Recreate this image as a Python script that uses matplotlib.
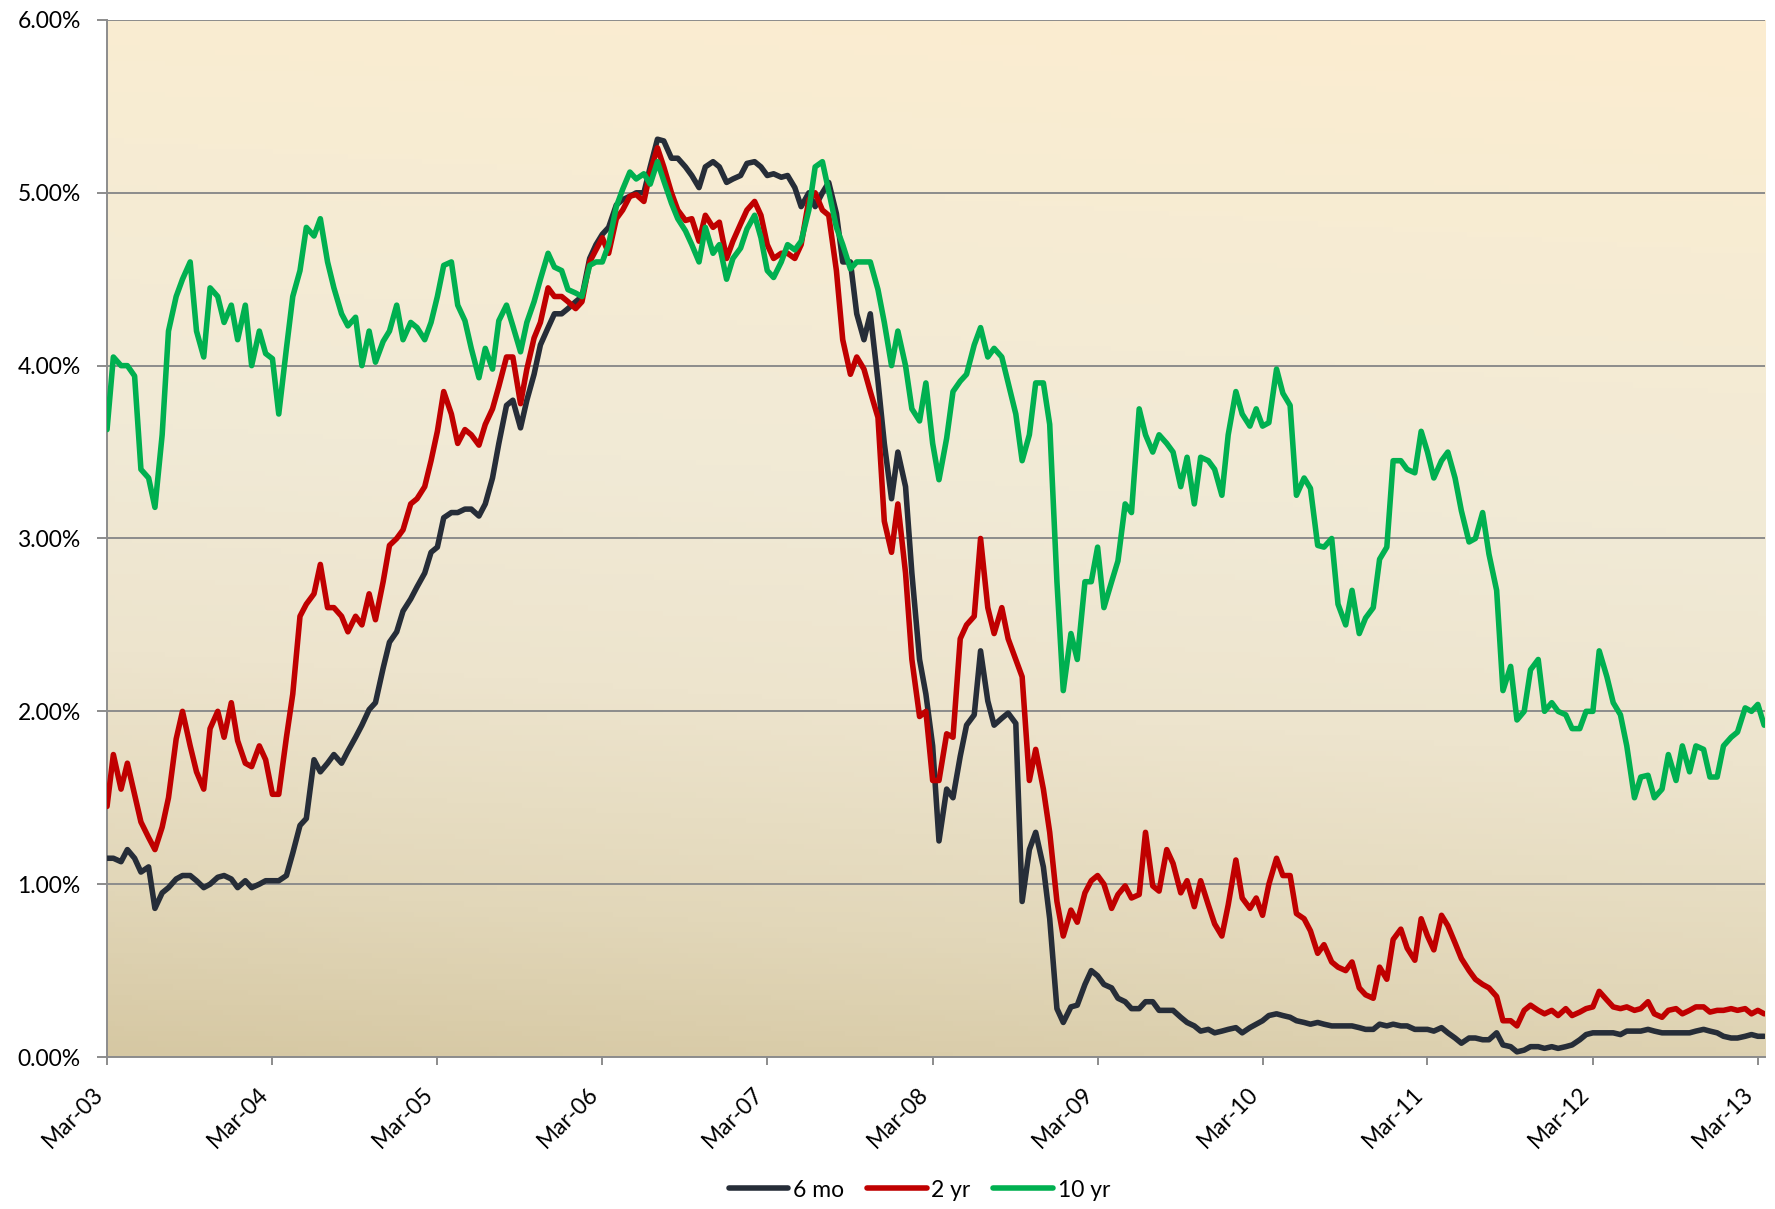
import matplotlib
matplotlib.use("Agg")
import matplotlib.pyplot as plt
import matplotlib.dates as mdates
from matplotlib.colors import LinearSegmentedColormap
from matplotlib.ticker import FuncFormatter, MultipleLocator
import numpy as np
import pandas as pd

plt.rcParams['font.family'] = ['Lato', 'DejaVu Sans']

# readings on the 1st and 15th of each month, Mar 2003 .. Mar 2013 (242 points)
dates = pd.date_range("2003-03-01", periods=242, freq="SMS")

yield_6mo = [
    1.15, 1.15, 1.13, 1.2, 1.15, 1.07, 1.1, 0.86, 0.95, 0.98, 1.03, 1.05, 1.05, 1.02, 0.98, 1.0, 1.04, 1.05, 1.03, 0.98, 1.02, 0.98, 1.0, 1.02,
    1.02, 1.02, 1.05, 1.18, 1.34, 1.38, 1.72, 1.65, 1.7, 1.75, 1.7, 1.77, 1.85, 1.92, 2.01, 2.05, 2.25, 2.4, 2.46, 2.58, 2.65, 2.72, 2.8, 2.92,
    2.95, 3.12, 3.15, 3.15, 3.17, 3.17, 3.13, 3.2, 3.35, 3.55, 3.77, 3.8, 3.64, 3.8, 3.95, 4.12, 4.22, 4.3, 4.3, 4.33, 4.37, 4.4, 4.62, 4.7,
    4.76, 4.8, 4.93, 4.96, 4.98, 5.0, 5.0, 5.15, 5.31, 5.3, 5.2, 5.2, 5.15, 5.1, 5.03, 5.15, 5.18, 5.15, 5.06, 5.08, 5.1, 5.17, 5.18, 5.15,
    5.1, 5.11, 5.09, 5.1, 5.03, 4.92, 5.0, 4.92, 5.0, 5.06, 4.88, 4.6, 4.6, 4.3, 4.15, 4.3, 3.91, 3.55, 3.23, 3.5, 3.3, 2.8, 2.3, 2.1,
    1.8, 1.25, 1.55, 1.5, 1.74, 1.92, 1.98, 2.35, 2.06, 1.92, 1.96, 1.99, 1.93, 0.9, 1.2, 1.3, 1.1, 0.8, 0.28, 0.2, 0.29, 0.3, 0.42, 0.5,
    0.47, 0.42, 0.4, 0.34, 0.32, 0.28, 0.28, 0.32, 0.32, 0.27, 0.27, 0.27, 0.23, 0.2, 0.18, 0.15, 0.16, 0.14, 0.15, 0.16, 0.17, 0.14, 0.17, 0.19,
    0.21, 0.24, 0.25, 0.24, 0.23, 0.21, 0.2, 0.19, 0.2, 0.19, 0.18, 0.18, 0.18, 0.18, 0.17, 0.16, 0.16, 0.19, 0.18, 0.19, 0.18, 0.18, 0.16, 0.16,
    0.16, 0.15, 0.17, 0.14, 0.11, 0.08, 0.11, 0.11, 0.1, 0.1, 0.14, 0.07, 0.06, 0.03, 0.04, 0.06, 0.06, 0.05, 0.06, 0.05, 0.06, 0.07, 0.1, 0.13,
    0.14, 0.14, 0.14, 0.14, 0.13, 0.15, 0.15, 0.15, 0.16, 0.15, 0.14, 0.14, 0.14, 0.14, 0.14, 0.15, 0.16, 0.15, 0.14, 0.12, 0.11, 0.11, 0.12, 0.13,
    0.12, 0.12,
]

yield_2yr = [
    1.45, 1.75, 1.55, 1.7, 1.52, 1.36, 1.27, 1.2, 1.33, 1.5, 1.84, 2.0, 1.8, 1.65, 1.55, 1.9, 2.0, 1.85, 2.05, 1.83, 1.7, 1.68, 1.8, 1.72,
    1.52, 1.52, 1.85, 2.1, 2.55, 2.62, 2.68, 2.85, 2.6, 2.6, 2.55, 2.46, 2.55, 2.5, 2.68, 2.53, 2.75, 2.96, 3.0, 3.05, 3.2, 3.23, 3.3, 3.45,
    3.62, 3.85, 3.72, 3.55, 3.63, 3.6, 3.54, 3.66, 3.75, 3.88, 4.05, 4.05, 3.78, 3.98, 4.16, 4.25, 4.45, 4.4, 4.4, 4.37, 4.33, 4.37, 4.6, 4.67,
    4.74, 4.65, 4.85, 4.9, 4.98, 4.99, 4.95, 5.12, 5.26, 5.15, 5.0, 4.9, 4.84, 4.85, 4.72, 4.87, 4.8, 4.83, 4.62, 4.72, 4.82, 4.9, 4.95, 4.87,
    4.7, 4.62, 4.65, 4.65, 4.62, 4.7, 4.96, 5.0, 4.9, 4.87, 4.55, 4.15, 3.95, 4.05, 3.98, 3.85, 3.7, 3.1, 2.92, 3.2, 2.8, 2.3, 1.97, 2.0,
    1.6, 1.6, 1.87, 1.85, 2.42, 2.5, 2.55, 3.0, 2.6, 2.45, 2.6, 2.42, 2.3, 2.2, 1.6, 1.78, 1.55, 1.3, 0.9, 0.7, 0.85, 0.78, 0.95, 1.02,
    1.05, 1.0, 0.86, 0.94, 0.99, 0.92, 0.94, 1.3, 0.99, 0.96, 1.2, 1.12, 0.95, 1.02, 0.87, 1.02, 0.88, 0.77, 0.7, 0.88, 1.14, 0.92, 0.86, 0.92,
    0.82, 1.0, 1.15, 1.05, 1.05, 0.83, 0.8, 0.73, 0.6, 0.65, 0.55, 0.52, 0.5, 0.55, 0.4, 0.36, 0.34, 0.52, 0.45, 0.68, 0.74, 0.63, 0.56, 0.8,
    0.7, 0.62, 0.82, 0.76, 0.66, 0.57, 0.5, 0.45, 0.42, 0.4, 0.35, 0.21, 0.21, 0.18, 0.27, 0.3, 0.27, 0.25, 0.27, 0.24, 0.28, 0.24, 0.26, 0.28,
    0.29, 0.38, 0.33, 0.29, 0.28, 0.29, 0.27, 0.28, 0.32, 0.25, 0.23, 0.27, 0.28, 0.25, 0.27, 0.29, 0.29, 0.26, 0.27, 0.27, 0.28, 0.27, 0.28, 0.25,
    0.27, 0.25,
]

yield_10yr = [
    3.63, 4.05, 4.0, 4.0, 3.94, 3.4, 3.35, 3.18, 3.6, 4.2, 4.4, 4.5, 4.6, 4.2, 4.05, 4.45, 4.4, 4.25, 4.35, 4.15, 4.35, 4.0, 4.2, 4.07,
    4.04, 3.72, 4.1, 4.4, 4.55, 4.8, 4.75, 4.85, 4.6, 4.45, 4.3, 4.23, 4.28, 4.0, 4.2, 4.02, 4.14, 4.2, 4.35, 4.15, 4.25, 4.22, 4.15, 4.25,
    4.4, 4.58, 4.6, 4.35, 4.26, 4.1, 3.93, 4.1, 3.98, 4.26, 4.35, 4.23, 4.08, 4.25, 4.37, 4.5, 4.65, 4.57, 4.55, 4.44, 4.42, 4.4, 4.58, 4.6,
    4.6, 4.7, 4.92, 5.02, 5.12, 5.08, 5.11, 5.05, 5.18, 5.07, 4.94, 4.85, 4.78, 4.7, 4.6, 4.8, 4.65, 4.7, 4.5, 4.62, 4.68, 4.79, 4.87, 4.74,
    4.55, 4.51, 4.6, 4.7, 4.67, 4.72, 4.9, 5.15, 5.18, 5.01, 4.8, 4.7, 4.56, 4.6, 4.6, 4.6, 4.44, 4.25, 4.0, 4.2, 4.0, 3.75, 3.68, 3.9,
    3.55, 3.34, 3.58, 3.85, 3.91, 3.95, 4.12, 4.22, 4.05, 4.1, 4.05, 3.9, 3.72, 3.45, 3.6, 3.9, 3.9, 3.66, 2.75, 2.12, 2.45, 2.3, 2.75, 2.75,
    2.95, 2.6, 2.75, 2.87, 3.2, 3.15, 3.75, 3.6, 3.5, 3.6, 3.55, 3.5, 3.3, 3.47, 3.2, 3.47, 3.45, 3.4, 3.25, 3.6, 3.85, 3.72, 3.65, 3.75,
    3.65, 3.67, 3.98, 3.84, 3.77, 3.25, 3.35, 3.29, 2.96, 2.95, 3.0, 2.62, 2.5, 2.7, 2.45, 2.54, 2.6, 2.88, 2.95, 3.45, 3.45, 3.4, 3.38, 3.62,
    3.5, 3.35, 3.45, 3.5, 3.35, 3.16, 2.98, 3.0, 3.15, 2.91, 2.7, 2.12, 2.26, 1.95, 2.0, 2.24, 2.3, 2.0, 2.05, 2.0, 1.98, 1.9, 1.9, 2.0,
    2.0, 2.35, 2.2, 2.05, 1.98, 1.8, 1.5, 1.62, 1.63, 1.5, 1.55, 1.75, 1.6, 1.8, 1.65, 1.8, 1.78, 1.62, 1.62, 1.8, 1.85, 1.88, 2.02, 2.0,
    2.04, 1.92,
]

series_names = ["6 mo", "2 yr", "10 yr"]
series_colors = ["#262D38", "#C00000", "#00B050"]
tick_years = list(range(2003, 2014))

fig = plt.figure(figsize=(17.75, 12.09), dpi=100)
pos = [0.0603, 0.1257, 0.9341, 0.8578]

# background gradient in its own axes, behind the chart
bg_ax = fig.add_axes(pos, zorder=0)
bg_cmap = LinearSegmentedColormap.from_list(
    "bg", [(0.0, "#D6C8A3"), (0.15, "#E2D7B9"), (0.35, "#EDE4CD"),
           (0.55, "#F1EAD6"), (0.8, "#F7ECD3"), (1.0, "#FCEDD0")])
gy, gx = np.mgrid[0:1:200j, 0:1:200j]
bg_ax.imshow(0.9 * gy + 0.1 * gx, cmap=bg_cmap, origin="lower", aspect="auto",
             extent=[0, 1, 0, 1], vmin=0, vmax=1)
bg_ax.axis("off")

ax = fig.add_axes(pos, zorder=1)
ax.patch.set_alpha(0)

series = [yield_6mo, yield_2yr, yield_10yr]
for vals, name, col in zip(series, series_names, series_colors):
    ax.plot(dates, vals, color=col, lw=4.0, label=name,
            solid_joinstyle="round", solid_capstyle="round", zorder=3)

ax.set_ylim(0, 6)
ax.set_xlim(pd.Timestamp("2003-03-01"), pd.Timestamp("2013-03-17"))
ax.yaxis.set_major_locator(MultipleLocator(1))
ax.yaxis.set_major_formatter(FuncFormatter(lambda v, p: f"{v:.2f}%"))
ax.set_xticks([pd.Timestamp(f"{y}-03-01") for y in tick_years])
ax.xaxis.set_major_formatter(mdates.DateFormatter("%b-%y"))

grid_col = "#8C8C8C"
ax.yaxis.grid(True, color=grid_col, lw=1.4, zorder=1)
ax.set_axisbelow(True)
for s in ["top", "right"]:
    ax.spines[s].set_visible(False)
for s in ["left", "bottom"]:
    ax.spines[s].set_color(grid_col)
    ax.spines[s].set_linewidth(1.4)

ax.tick_params(axis="y", length=7, width=1.4, color=grid_col, pad=12,
               labelsize=16.5, labelcolor="black")
ax.tick_params(axis="x", length=6, width=1.4, color=grid_col, pad=13,
               labelsize=16.5, labelcolor="black")
for lab in ax.get_xticklabels():
    lab.set_rotation(45)
    lab.set_ha("right")

handles, labels = ax.get_legend_handles_labels()
fig.legend(handles, labels, loc="center", bbox_to_anchor=(0.518, 0.0157),
           ncol=3, frameon=False, fontsize=16.5, handlelength=2.6,
           handletextpad=0.2, columnspacing=1.0)

fig.savefig("out.png", dpi=100)
